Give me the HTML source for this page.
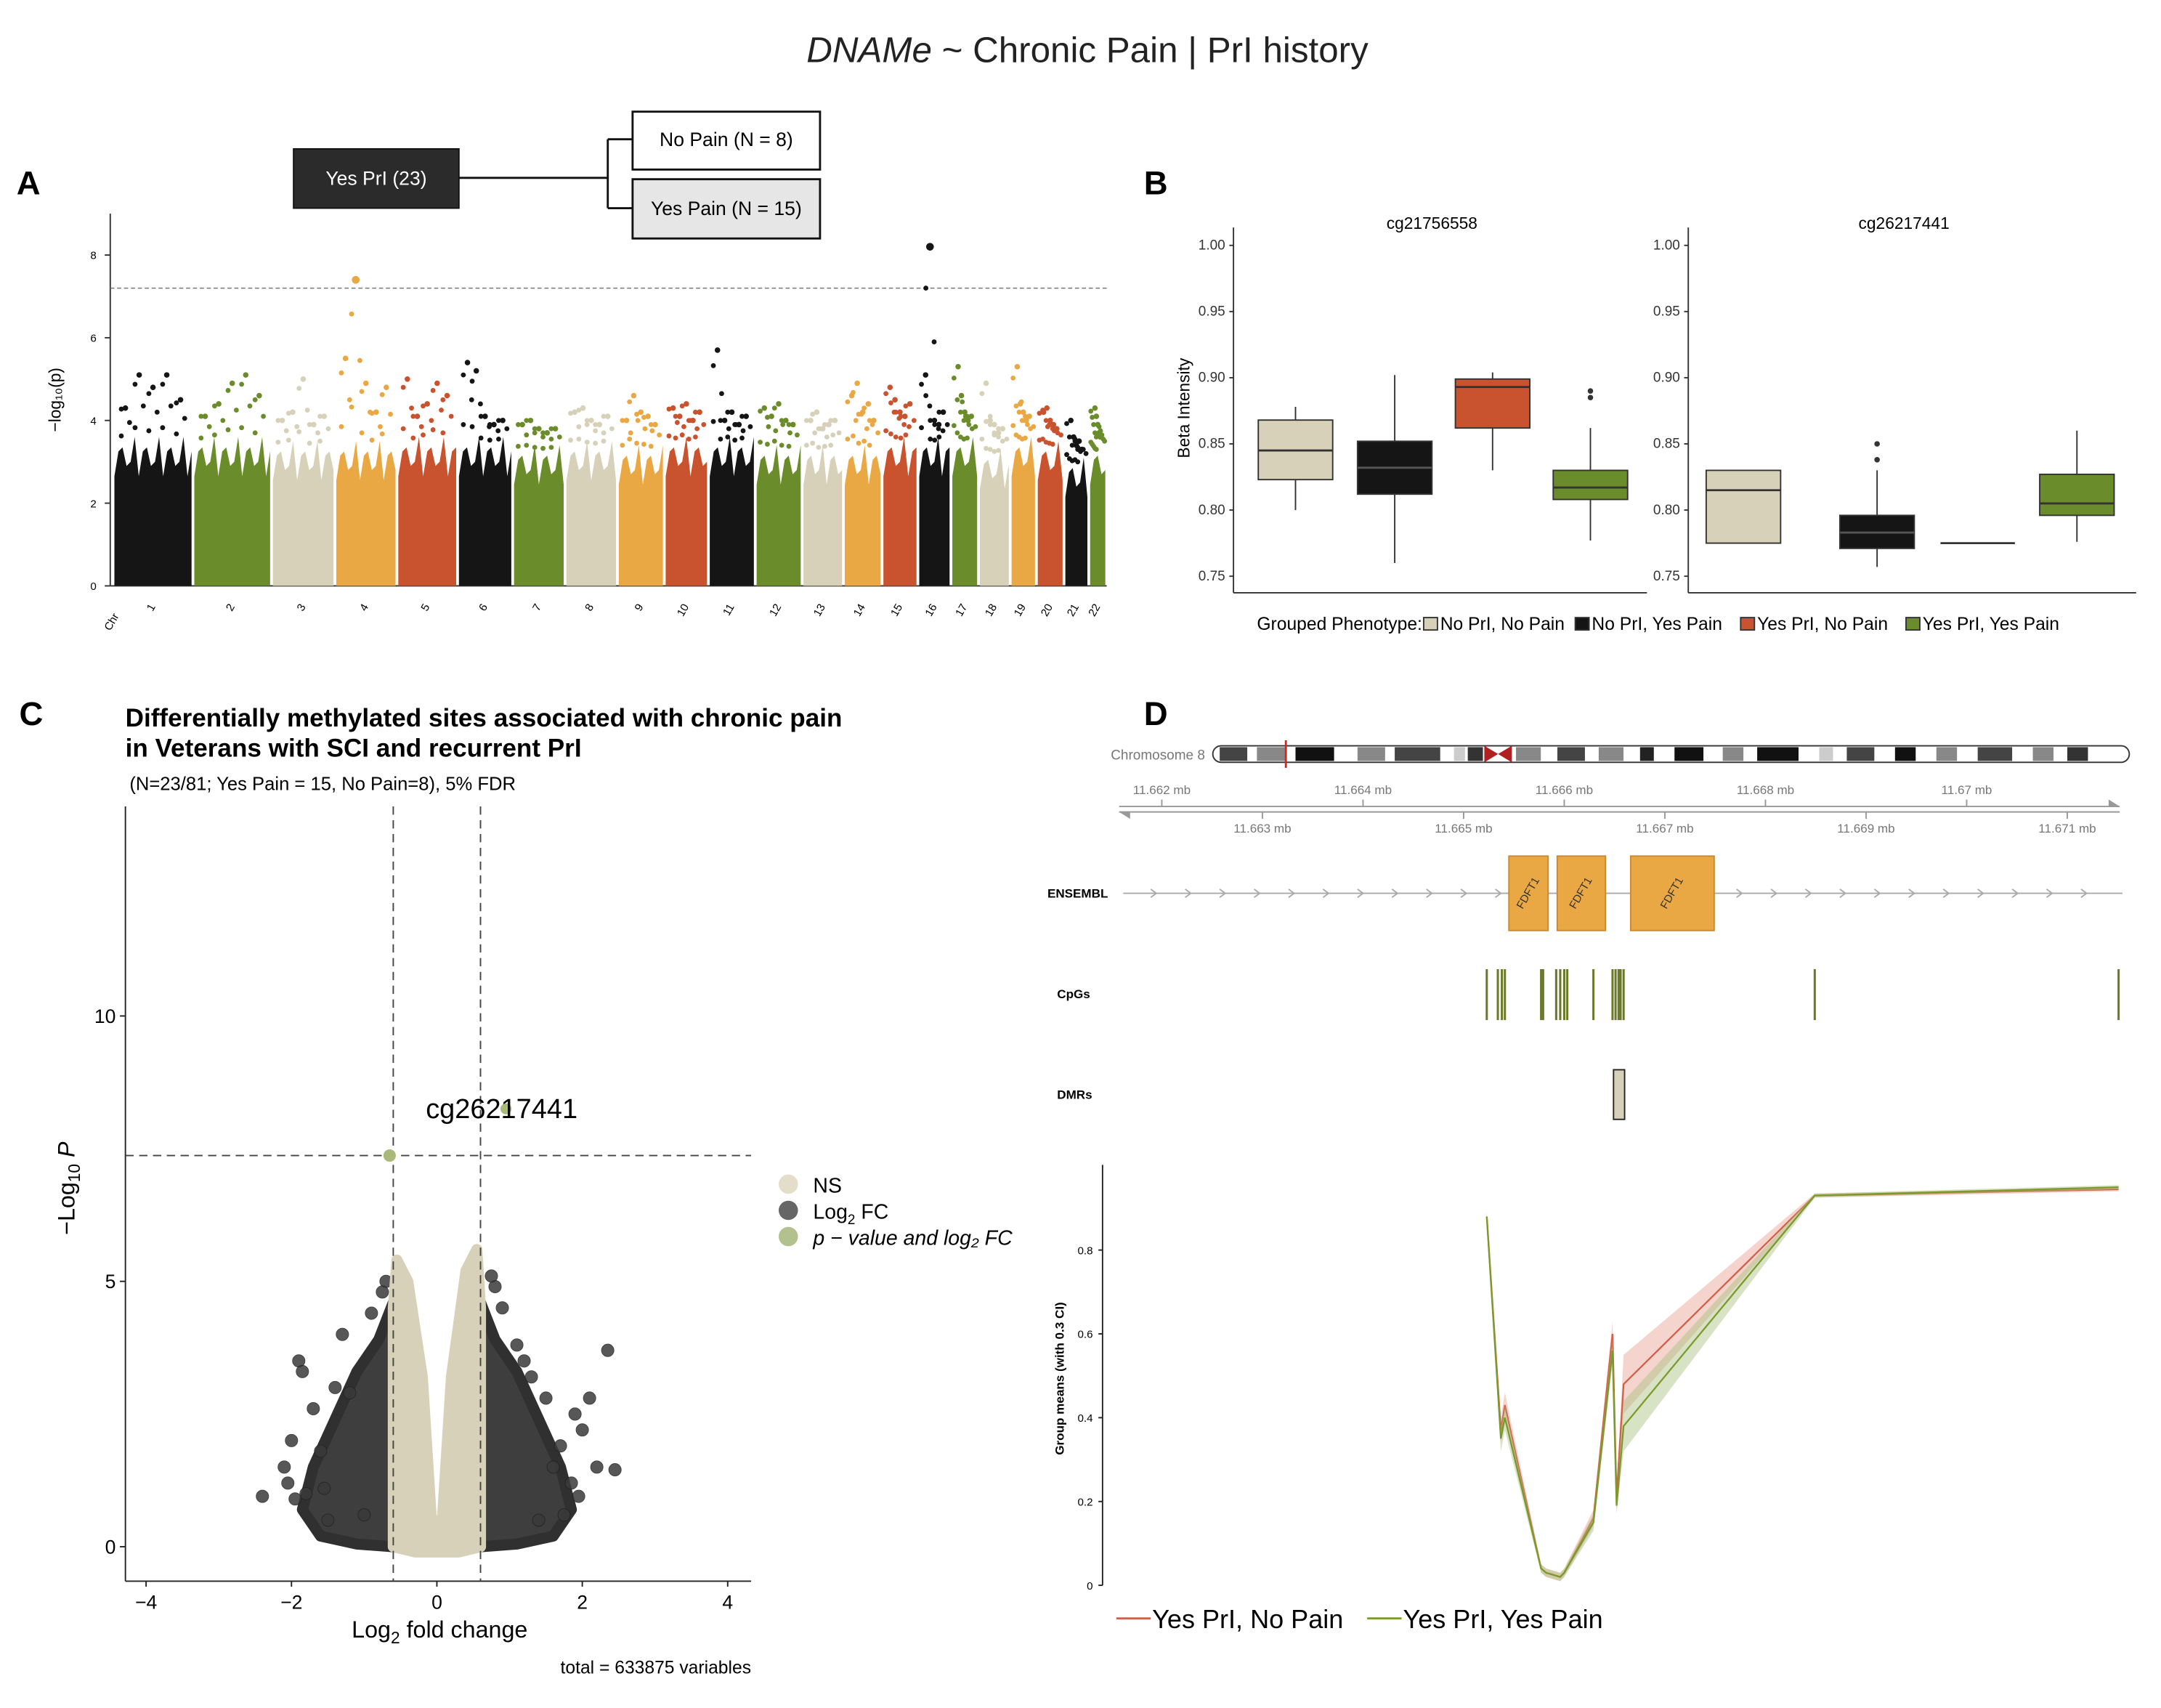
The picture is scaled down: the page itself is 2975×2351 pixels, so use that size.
<!DOCTYPE html>
<html><head><meta charset="utf-8"><title>DNAMe ~ Chronic Pain | PrI history</title>
<style>
html,body{margin:0;padding:0;background:#fff;}
svg{display:block;font-family:"Liberation Sans",Arial,sans-serif;}
</style></head>
<body>
<svg id="fig" width="2975" height="2351" viewBox="0 0 1568 1239" preserveAspectRatio="none" xmlns="http://www.w3.org/2000/svg">
<rect width="1568" height="1239" fill="#fff"/>
<text x="789" y="45" font-size="26" text-anchor="middle" fill="#222"><tspan font-style="italic">DNAMe</tspan> ~ Chronic Pain | PrI history</text>
<text x="12" y="141" font-size="24" font-weight="bold">A</text>
<text x="830" y="141" font-size="24" font-weight="bold">B</text>
<text x="14" y="526" font-size="24" font-weight="bold">C</text>
<text x="830" y="526" font-size="24" font-weight="bold">D</text>
<g>
<rect x="213" y="108" width="120" height="43" fill="#2b2b2b" stroke="#111"/>
<text x="273" y="134" font-size="14" fill="#fff" text-anchor="middle">Yes PrI (23)</text>
<path d="M333 129H441M441 101V151M441 101H459M441 151H459" stroke="#111" stroke-width="1.5" fill="none"/>
<rect x="459" y="81" width="136" height="42" fill="#fff" stroke="#111" stroke-width="1.5"/>
<text x="527" y="106" font-size="14" text-anchor="middle">No Pain (N = 8)</text>
<rect x="459" y="130" width="136" height="43" fill="#e6e6e6" stroke="#111" stroke-width="1.5"/>
<text x="527" y="156" font-size="14" text-anchor="middle">Yes Pain (N = 15)</text>
</g>
<g id="manhattan"></g>
<g id="boxplots"></g>
<g id="volcano"></g>
<g id="track"></g>
</svg>
<script>
// ---------- Manhattan data ----------
const chrLabels=["1","2","3","4","5","6","7","8","9","10","11","12","13","14","15","16","17","18","19","20","21","22"];
const chrBounds=[82,140,197,243,288,332,372,410,448,482,514,548,582,612,640,666,690,710,733,752,772,790,803];
const chrBulk=[3.0,3.0,2.9,2.9,3.0,3.0,2.8,2.9,2.8,3.0,3.0,2.8,2.8,2.8,3.0,3.0,3.0,2.7,3.0,2.9,2.5,2.8];
const chrTops=[[4.3,5.1,4.8,5.1,4.5],[4.1,4.4,4.9,5.1,4.6],[4.0,4.2,5.0,3.9,4.1],[5.5,7.4,4.9,4.2,4.8],[5.0,4.1,4.4,4.9,4.6],[5.4,5.2,4.1,3.9,4.0],[3.9,4.0,3.8,3.7,3.8],[4.2,4.3,4.0,3.9,4.1],[4.0,4.6,4.2,4.1,3.9],[4.3,4.1,4.4,4.0,4.2],[5.7,4.0,4.2,3.9,4.1],[4.3,4.1,4.4,4.0,3.9],[4.0,4.2,3.8,3.9,4.0],[4.6,4.9,4.2,4.4,4.0],[4.8,4.5,4.2,4.1,4.4],[5.1,8.2,4.0,3.9,4.2],[5.3,4.6,4.2,4.0,4.1],[4.9,4.0,3.9,3.7,3.8],[5.3,4.4,4.2,4.0,4.1],[4.2,4.3,4.0,3.9,3.8],[4.0,3.6,3.4,3.5,3.3],[4.3,4.1,3.9,3.7,3.6]];
const manhattanTicks=[0,2,4,6,8];
const manhattanThreshold=7.2;
// ---------- Boxplot data ----------
const boxGroups=["No PrI, No Pain","No PrI, Yes Pain","Yes PrI, No Pain","Yes PrI, Yes Pain"];
const boxColors=["#d8d1b9","#151515","#c9532e","#6b8c2a"];
const box1=[[0.800,0.823,0.845,0.868,0.878],[0.760,0.812,0.832,0.852,0.902],[0.830,0.862,0.893,0.899,0.904],[0.777,0.808,0.817,0.830,0.862]];
const box1Out=[[],[],[],[0.885,0.890]];
const box2=[[0.775,0.775,0.815,0.830,0.830],[0.757,0.771,0.783,0.796,0.830],[0.775,0.775,0.775,0.775,0.775],[0.776,0.796,0.805,0.827,0.860]];
const box2Out=[[],[0.838,0.850],[],[]];
const betaTicks=[0.75,0.80,0.85,0.90,0.95,1.00];
// ---------- Volcano data ----------
const volXTicks=[-4,-2,0,2,4];
const volYTicks=[0,5,10];
const fcCut=0.6, pCut=7.37;
const sigPoint=[-0.65,7.37];
const labelPoint=[0.95,8.25];
const nsCloud=[[-0.6,0],[-0.6,4.5],[-0.55,5.4],[-0.4,5.0],[-0.2,3.2],[-0.08,0.6],[0,0],[0.08,0.6],[0.2,3.2],[0.4,5.2],[0.55,5.6],[0.6,4.5],[0.6,0],[0.3,-0.1],[-0.3,-0.1]];
const leftCloud=[[-0.6,0],[-0.6,4.6],[-0.8,3.9],[-1.1,3.3],[-1.4,2.4],[-1.7,1.5],[-1.85,0.7],[-1.6,0.2],[-1.1,0.05]];
const rightCloud=[[0.6,0],[0.6,4.6],[0.8,3.9],[1.1,3.3],[1.4,2.4],[1.7,1.5],[1.85,0.7],[1.6,0.2],[1.1,0.05]];
const fcOutX=[-2.4,-1.9,-1.85,-2.0,-1.7,-2.05,-1.5,-1.6,-1.2,-0.9,-1.3,-1.8,-1.95,-2.1,-1.4,-0.7,-0.75,2.35,2.1,2.0,1.9,1.85,1.7,1.6,1.5,1.3,1.1,0.9,0.8,0.75,2.2,1.95,1.75,-1.0,-1.55,2.45,1.2,1.4];
const fcOutY=[0.95,3.5,3.3,2.0,2.6,1.2,0.5,1.8,2.9,4.4,4.0,1.0,0.9,1.5,3.0,5.0,4.8,3.7,2.8,2.2,2.5,1.2,1.9,1.5,2.8,3.2,3.8,4.5,4.9,5.1,1.5,0.95,0.6,0.6,1.1,1.45,3.5,0.5];
// ---------- Track data ----------
const kbTicksTop=[11.662,11.664,11.666,11.668,11.670];
const kbTicksBot=[11.663,11.665,11.667,11.669,11.671];
const exonStart=[11.66545,11.66593,11.66666];
const exonEnd=[11.66584,11.66641,11.66749];
const cpgPos=[11.66523,11.66534,11.66538,11.66541,11.66577,11.66579,11.66592,11.66596,11.66600,11.66603,11.66629,11.66648,11.66651,11.66654,11.66656,11.66659,11.66849,11.67151];
const dmrStart=11.66649, dmrEnd=11.66660;
const lineX=[11.66523,11.66537,11.66541,11.66577,11.66582,11.66596,11.66600,11.66629,11.66648,11.66652,11.66659,11.66849,11.67151];
const meanNoPain=[0.88,0.37,0.43,0.04,0.03,0.02,0.03,0.16,0.60,0.21,0.48,0.93,0.945];
const meanYesPain=[0.88,0.35,0.40,0.04,0.03,0.02,0.03,0.15,0.56,0.19,0.38,0.93,0.95];
const ciNoPain=[0.01,0.03,0.03,0.01,0.01,0.01,0.01,0.02,0.03,0.02,0.05,0.005,0.005];
const ciYesPain=[0.01,0.03,0.03,0.01,0.01,0.01,0.01,0.02,0.03,0.02,0.05,0.005,0.005];
const meanTicks=[0,0.2,0.4,0.6,0.8];

const NS="http://www.w3.org/2000/svg";
function mk(p,tag,attrs,txt){const e=document.createElementNS(NS,tag);for(const k in attrs)e.setAttribute(k,attrs[k]);if(txt!==undefined)e.textContent=txt;p.appendChild(e);return e;}

// ===== Manhattan =====
(function(){
const g=document.getElementById('manhattan');
const y=v=>425-v*30;
const cols=["#151515","#6b8c2a","#d8d1b9","#e9a844","#c9532e"];
mk(g,'line',{x1:80,y1:155,x2:80,y2:425,stroke:'#333'});
mk(g,'line',{x1:80,y1:425,x2:803,y2:425,stroke:'#333'});
manhattanTicks.forEach(t=>{
 const tk=mk(g,'text',{x:70,y:y(t)+3,'font-size':8,'text-anchor':'end'},String(t));
 
 
 mk(g,'line',{x1:76,y1:y(t),x2:80,y2:y(t),stroke:'#333'});
});
const yl=mk(g,'text',{transform:'translate(44,290) rotate(-90)','font-size':12,'text-anchor':'middle'},'−log₁₀(p)');


const th=mk(g,'line',{x1:80,x2:803,y1:y(manhattanThreshold),y2:y(manhattanThreshold),stroke:'#777','stroke-dasharray':'3,2','stroke-width':0.8});


const cl=mk(g,'text',{transform:'translate(80,458) rotate(-60)','font-size':8,'text-anchor':'start'},'Chr');


chrLabels.forEach((c,i)=>{
 const x0=chrBounds[i],x1=chrBounds[i+1],col=cols[i%5];
 const r=mk(g,'path',{fill:col,d:''});
 let d=`M${x0+1},${y(0)}`;const n=Math.max(4,Math.floor((x1-x0)/3));
 for(let k=0;k<=n;k++){const xx=x0+1+(x1-x0-2)*k/n;const v=chrBulk[i]+((k%3)-1)*0.35+(k%2)*0.25;d+=`L${xx},${y(v)}`;}
 d+=`L${x1-1},${y(0)}Z`;r.setAttribute('d',d);
 
 
 chrTops[i].forEach((v,j)=>{
  const xx=x0+4+(x1-x0-8)*(j+0.5)/chrTops[i].length;
  const pc=mk(g,'circle',{cx:xx,cy:y(v),r:v>7?2.8:2,fill:col});
  
  
  for(let m=1;m<=3;m++){mk(g,'circle',{cx:xx+(m%2?-3:3),cy:y(Math.min(v,chrBulk[i]+0.3+ (v-chrBulk[i])*m/4)),r:1.8,fill:col});}
 });
 const tl=mk(g,'text',{transform:`translate(${(x0+x1)/2+2},${440}) rotate(-60)`,'font-size':8,'text-anchor':'end'},c);
 
 
});
})();

// ===== Boxplots =====
(function(){
const g=document.getElementById('boxplots');
const y=v=>178+(1.0-v)*960;
function facet(x0,x1,title,data,outs,centers){
 mk(g,'line',{x1:x0,y1:165,x2:x0,y2:430,stroke:'#333'});
 mk(g,'line',{x1:x0,y1:430,x2:x1,y2:430,stroke:'#333'});
 betaTicks.forEach(t=>{
  const tk=mk(g,'text',{x:x0-6,y:y(t)+3,'font-size':10,'text-anchor':'end',fill:'#333'},t.toFixed(2));
  
  
  mk(g,'line',{x1:x0-3,y1:y(t),x2:x0,y2:y(t),stroke:'#333'});
 });
 const ft=mk(g,'text',{x:(x0+x1)/2-6,y:166,'font-size':12,'text-anchor':'middle'},title);
 
 
 data.forEach((b,i)=>{
  const cx=centers[i],w=54;
  const bg=mk(g,'g',{});
  
  
  mk(bg,'line',{x1:cx,x2:cx,y1:y(b[0]),y2:y(b[4]),stroke:'#333'});
  if(b[3]-b[1]>0.001){
   mk(bg,'rect',{x:cx-w/2,y:y(b[3]),width:w,height:y(b[1])-y(b[3]),fill:boxColors[i],stroke:'#333'});
   mk(bg,'line',{x1:cx-w/2,x2:cx+w/2,y1:y(b[2]),y2:y(b[2]),stroke:i==1?'#555':'#333','stroke-width':1.5});
  } else {
   mk(bg,'line',{x1:cx-w/2,x2:cx+w/2,y1:y(b[2]),y2:y(b[2]),stroke:'#333','stroke-width':1.5});
  }
  outs[i].forEach(o=>mk(bg,'circle',{cx:cx,cy:y(o),r:2,fill:'#333'}));
 });
}
facet(895,1195,'cg21756558',box1,box1Out,[940,1012,1083,1154]);
facet(1225,1550,'cg26217441',box2,box2Out,[1265,1362,1435,1507]);
const yl=mk(g,'text',{transform:'translate(863,296) rotate(-90)','font-size':12,'text-anchor':'middle'},'Beta Intensity');


const lg=mk(g,'g',{});


mk(lg,'text',{x:912,y:457,'font-size':13},'Grouped Phenotype:');
const lx=[1033,1143,1263,1383];
boxGroups.forEach((n,i)=>{
 mk(lg,'rect',{x:lx[i],y:448,width:10,height:9,fill:boxColors[i],stroke:'#333'});
 const t=mk(lg,'text',{x:lx[i]+12,y:457,'font-size':13},n);
 
 
});
})();

// ===== Volcano =====
(function(){
const g=document.getElementById('volcano');
const x=v=>317+v*52.75, y=v=>1122-v*38.5;
mk(g,'text',{x:91,y:527,'font-size':18.5,'font-weight':'bold'},'Differentially methylated sites associated with chronic pain');
mk(g,'text',{x:91,y:549,'font-size':18.5,'font-weight':'bold'},' in Veterans with SCI and recurrent PrI');
mk(g,'text',{x:94,y:573,'font-size':13.5},'(N=23/81; Yes Pain = 15, No Pain=8), 5% FDR');
mk(g,'line',{x1:91,y1:585,x2:91,y2:1147,stroke:'#222'});
mk(g,'line',{x1:91,y1:1147,x2:545,y2:1147,stroke:'#222'});
volXTicks.forEach(t=>{mk(g,'line',{x1:x(t),x2:x(t),y1:1147,y2:1151,stroke:'#222'});
 const tk=mk(g,'text',{x:x(t),y:1167,'font-size':14,'text-anchor':'middle'},t<0?'−'+(-t):String(t));
 
 });
volYTicks.forEach(t=>{mk(g,'line',{x1:87,x2:91,y1:y(t),y2:y(t),stroke:'#222'});
 const tk=mk(g,'text',{x:84,y:y(t)+5,'font-size':14,'text-anchor':'end'},String(t));
 
 });
const pts=a=>a.map(p=>x(p[0])+','+y(p[1])).join(' ');
const lc=mk(g,'polygon',{points:pts(leftCloud),fill:'#2a2a2a',stroke:'#1a1a1a','stroke-width':8,'stroke-linejoin':'round',opacity:0.9});


const rc=mk(g,'polygon',{points:pts(rightCloud),fill:'#2a2a2a',stroke:'#1a1a1a','stroke-width':8,'stroke-linejoin':'round',opacity:0.9});


fcOutX.forEach((v,i)=>{const c=mk(g,'circle',{cx:x(v),cy:y(fcOutY[i]),r:4.5,fill:'#3a3a3a',stroke:'#222','stroke-width':0.5,opacity:0.85});
 
 });
const nc=mk(g,'polygon',{points:pts(nsCloud),fill:'#d8d1b9',stroke:'#d8d1b9','stroke-width':8,'stroke-linejoin':'round'});


[[-fcCut],[fcCut]].forEach(v=>mk(g,'line',{x1:x(v[0]),x2:x(v[0]),y1:585,y2:1147,stroke:'#444','stroke-dasharray':'6,4'}));
mk(g,'line',{x1:91,x2:545,y1:y(pCut),y2:y(pCut),stroke:'#444','stroke-dasharray':'6,4'});
const sp=mk(g,'circle',{cx:x(sigPoint[0]),cy:y(sigPoint[1]),r:4.5,fill:'#a8b97a'});


mk(g,'circle',{cx:x(labelPoint[0]),cy:y(labelPoint[1]),r:4,fill:'#a8b97a'});
const lb=mk(g,'text',{x:364,y:811,'font-size':20,'text-anchor':'middle'},'cg26217441');


const xl=mk(g,'text',{x:319,y:1188,'font-size':17,'text-anchor':'middle'});
xl.innerHTML='Log<tspan font-size="12" dy="4">2</tspan><tspan dy="-4"> fold change</tspan>';


const yt=mk(g,'text',{transform:'translate(54,862) rotate(-90)','font-size':17,'text-anchor':'middle'});
yt.innerHTML='−Log<tspan font-size="12" dy="4">10</tspan><tspan dy="-4" font-style="italic"> P</tspan>';


const tot=mk(g,'text',{x:545,y:1214,'font-size':13,'text-anchor':'end'},'total = 633875 variables');


const lg=mk(g,'g',{});


mk(lg,'circle',{cx:572,cy:859,r:7,fill:'#e3ddc9'});mk(lg,'text',{x:590,y:865,'font-size':15},'NS');
mk(lg,'circle',{cx:572,cy:878,r:7,fill:'#666'});
const l2=mk(lg,'text',{x:590,y:884,'font-size':15});l2.innerHTML='Log<tspan font-size="10" dy="4">2</tspan><tspan dy="-4"> FC</tspan>';
mk(lg,'circle',{cx:572,cy:897,r:7,fill:'#b3c18e'});
mk(lg,'text',{x:590,y:903,'font-size':15,'font-style':'italic'},'p − value and log₂ FC');
})();

// ===== Track panel D =====
(function(){
const g=document.getElementById('track');
const x=v=>843+(v-11.662)*73000;
const id=mk(g,'g',{});


mk(id,'text',{x:806,y:551,'font-size':10,fill:'#777'},'Chromosome 8');
mk(id,'rect',{x:880,y:541,width:665,height:12,rx:6,fill:'#fff',stroke:'#333'});
const bands=[[885,905,'#444'],[912,933,'#888'],[940,968,'#111'],[985,1005,'#888'],[1012,1045,'#444'],[1055,1063,'#ccc'],[1065,1076,'#333'],[1100,1118,'#888'],[1130,1150,'#444'],[1160,1178,'#888'],[1190,1200,'#222'],[1215,1236,'#111'],[1250,1265,'#888'],[1275,1305,'#111'],[1320,1330,'#ccc'],[1340,1360,'#444'],[1375,1390,'#111'],[1405,1420,'#888'],[1435,1460,'#444'],[1475,1490,'#888'],[1500,1515,'#333']];
bands.forEach(b=>mk(id,'rect',{x:b[0],y:542,width:b[1]-b[0],height:10,fill:b[2]}));
mk(id,'path',{d:'M1077,541L1087,547L1077,553ZM1097,541L1087,547L1097,553Z',fill:'#b02020'});
mk(id,'line',{x1:933,x2:933,y1:537,y2:557,stroke:'#e02020','stroke-width':1.5});
mk(g,'line',{x1:812,x2:1538,y1:585,y2:585,stroke:'#999'});
mk(g,'line',{x1:812,x2:1538,y1:589,y2:589,stroke:'#999'});
mk(g,'path',{d:'M1530,580L1538,585L1530,585Z',fill:'#999'});
mk(g,'path',{d:'M820,594L812,589L820,589Z',fill:'#999'});
kbTicksTop.forEach(t=>{mk(g,'line',{x1:x(t),x2:x(t),y1:580,y2:585,stroke:'#999'});
 const tk=mk(g,'text',{x:x(t),y:576,'font-size':9,fill:'#777','text-anchor':'middle'},(+t.toFixed(3))+' mb');
 
 });
kbTicksBot.forEach(t=>{mk(g,'line',{x1:x(t),x2:x(t),y1:589,y2:594,stroke:'#999'});
 const tk=mk(g,'text',{x:x(t),y:604,'font-size':9,fill:'#777','text-anchor':'middle'},(+t.toFixed(3))+' mb');
 
 });
mk(g,'text',{x:760,y:651,'font-size':9,'font-weight':'bold'},'ENSEMBL');
mk(g,'line',{x1:815,x2:1540,y1:648,y2:648,stroke:'#aaa'});
for(let xx=835;xx<1535;xx+=25){mk(g,'path',{d:`M${xx},645L${xx+4},648L${xx},651`,stroke:'#aaa',fill:'none'});}
exonStart.forEach((s,i)=>{
 const e=mk(g,'g',{});
 
 
 mk(e,'rect',{x:x(s),y:621,width:x(exonEnd[i])-x(s),height:54,fill:'#e9a844',stroke:'#c88a30'});
 const cx=(x(s)+x(exonEnd[i]))/2;
 mk(e,'text',{transform:`translate(${cx},648) rotate(-60)`,'font-size':8,'text-anchor':'middle','dominant-baseline':'middle',fill:'#333'},'FDFT1');
});
mk(g,'text',{x:767,y:724,'font-size':9,'font-weight':'bold'},'CpGs');
cpgPos.forEach(p=>{const l=mk(g,'line',{x1:x(p),x2:x(p),y1:703,y2:740,stroke:'#6b7a2a','stroke-width':1.6});
 
 });
mk(g,'text',{x:767,y:797,'font-size':9,'font-weight':'bold'},'DMRs');
const dm=mk(g,'rect',{x:x(dmrStart),y:776,width:x(dmrEnd)-x(dmrStart),height:36,fill:'#d8d1b9',stroke:'#222'});


const y=v=>1150-v*304;
mk(g,'line',{x1:800,x2:800,y1:845,y2:1150,stroke:'#222'});
meanTicks.forEach(t=>{mk(g,'line',{x1:797,x2:800,y1:y(t),y2:y(t),stroke:'#222'});
 const tk=mk(g,'text',{x:793,y:y(t)+3,'font-size':8,'text-anchor':'end'},String(t));
 
 });
const yl=mk(g,'text',{transform:'translate(772,1000) rotate(-90)','font-size':9,'font-weight':'bold','text-anchor':'middle'},'Group means (with 0.3 CI)');


function series(m,ci,col,fillc,name){
 let up=lineX.map((p,i)=>x(p)+','+y(m[i]+ci[i])).join(' ');
 let dn=lineX.map((p,i)=>x(p)+','+y(m[i]-ci[i])).reverse().join(' ');
 const b=mk(g,'polygon',{points:up+' '+dn,fill:fillc,opacity:0.45});
 
 
 const l=mk(g,'polyline',{points:lineX.map((p,i)=>x(p)+','+y(m[i])).join(' '),fill:'none',stroke:col,'stroke-width':1.2});
 
 
}
series(meanNoPain,ciNoPain.map((c,i)=>i==10?0.07:c),'#d0604a','#e8a090','no-pain');
series(meanYesPain,ciYesPain.map((c,i)=>i==10?0.06:c),'#7a9a2a','#a8c080','yes-pain');
const lg=mk(g,'g',{});


mk(lg,'line',{x1:810,x2:835,y1:1174,y2:1174,stroke:'#d0604a','stroke-width':1.5});
mk(lg,'text',{x:836,y:1181,'font-size':19},'Yes PrI, No Pain');
mk(lg,'line',{x1:992,x2:1017,y1:1174,y2:1174,stroke:'#7a9a2a','stroke-width':1.5});
mk(lg,'text',{x:1018,y:1181,'font-size':19},'Yes PrI, Yes Pain');
})();
</script>
</body></html>
